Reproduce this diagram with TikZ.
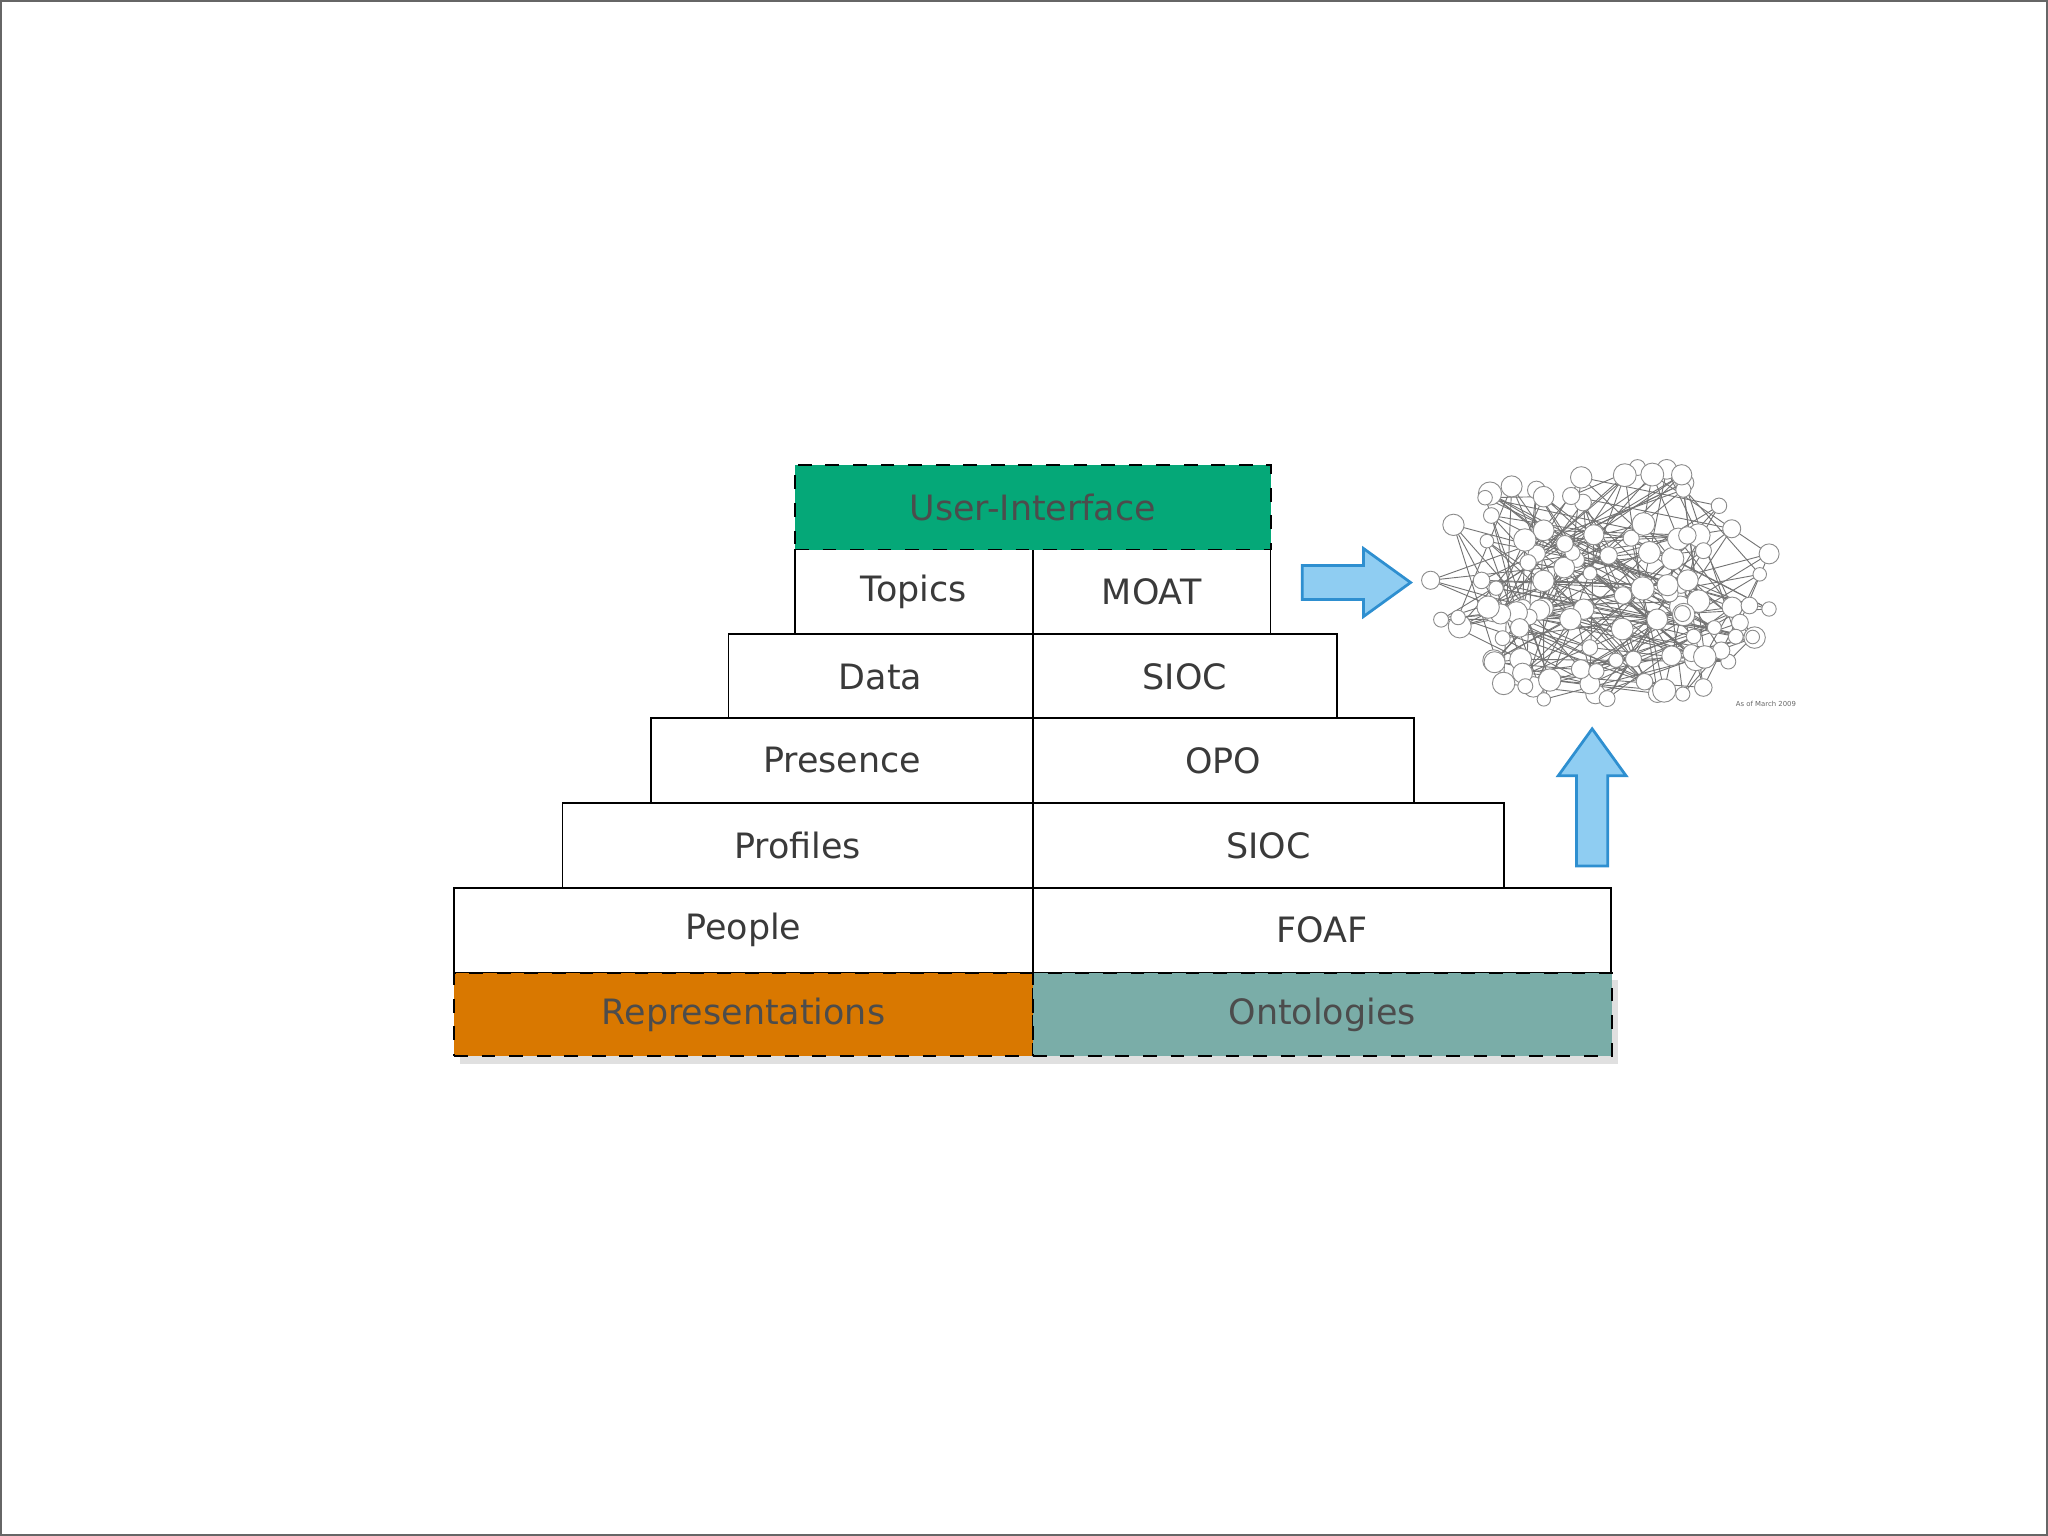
\documentclass[tikz,border=0pt]{standalone}
\usepackage{fontspec}
\setmainfont{DejaVu Sans}
\usepackage{xcolor}
\usetikzlibrary{arrows.meta, positioning}
\definecolor{uigreen}{HTML}{05A878}
\definecolor{repor}{HTML}{D97800}
\definecolor{ontteal}{HTML}{7AADA8}
\definecolor{arrblue}{HTML}{8FCDF2}
\definecolor{arredge}{HTML}{2E8FD0}
\definecolor{txtgray}{HTML}{3A3A3A}
\tikzset{
  cell/.style={draw=black, fill=white, thin, inner sep=0pt, anchor=north west,
    text=txtgray, font=\fontsize{7.6}{9}\selectfont},
  band/.style={cell, dashed, text=black!70},
  bubble/.style={circle, draw=black!45, fill=white, line width=0.2pt, inner sep=0pt}
}
\begin{document}
\begin{tikzpicture}[x=0.01cm, y=-0.01cm]
    \useasboundingbox (0,0) rectangle (1568,1176);
    \draw[black!60] (1,1) rectangle (1567,1175);
    % soft shadow under the pyramid
    \fill[black!12] (352,750) rectangle (1239,815);
    % layers: left x, top y, height, width, text
    \foreach \x/\y/\w/\t/\n in {608/420/182/Topics/topics, 557/485/233/Data/data,
                                498/549/292/Presence/presence, 430/614/360/Profiles/profiles,
                                347/679/443/People/people} {
        \node[cell, minimum width=\w*0.01cm, minimum height=0.65cm] (\n) at (\x,\y) {\t};
    }
    \foreach \y/\w/\t/\n in {420/182/MOAT/moat, 485/233/SIOC/sioc, 549/292/OPO/opo,
                             614/361/SIOC/siocb, 679/443/FOAF/foaf} {
        \node[cell, minimum width=\w*0.01cm, minimum height=0.65cm] (\n) at (790,\y) {\t};
    }
    \node[band, fill=uigreen, minimum width=3.64cm, minimum height=0.65cm] (ui) at (608,355) {User-Interface};
    \node[band, fill=repor, minimum width=4.43cm, minimum height=0.64cm] (repr) at (347,744) {Representations};
    \node[band, fill=ontteal, minimum width=4.43cm, minimum height=0.64cm] (onto) at (790,744) {Ontologies};
    % arrows towards the cloud
    \draw[arredge, fill=arrblue, line width=0.6pt]
        (997,433) -- (1044,433) -- (1044,420) -- (1080,446) -- (1044,472) -- (1044,459) -- (997,459) -- cycle;
    \draw[arredge, fill=arrblue, line width=0.6pt]
        (1207,663) -- (1207,594) -- (1193,594) -- (1219,558) -- (1245,594) -- (1231,594) -- (1231,663) -- cycle;
    % data cloud
    \pgfmathsetseed{7}
    \foreach \i in {1,...,110} {
        \pgfmathsetmacro{\a}{rnd*360}
        \pgfmathsetmacro{\r}{sqrt(rnd)}
        \coordinate (c\i) at ({1228+135*\r*cos(\a)}, {448+95*\r*sin(\a)});
    }
    \foreach \i in {1,...,110} {
        \pgfmathtruncatemacro{\j}{1+mod(\i*37,110)}
        \pgfmathtruncatemacro{\k}{1+mod(\i*13+5,110)}
        \draw[black!55, line width=0.2pt] (c\i) -- (c\j) (c\i) -- (c\k);
    }
    \foreach \i in {1,...,110} {
        \pgfmathsetmacro{\s}{0.1+0.08*rnd}
        \node[bubble, minimum size=\s cm] at (c\i) {};
    }
    \node[font=\fontsize{1.5}{2}\selectfont, text=black!60] (asof) at (1352,539) {As of March 2009};
\end{tikzpicture}
\end{document}
